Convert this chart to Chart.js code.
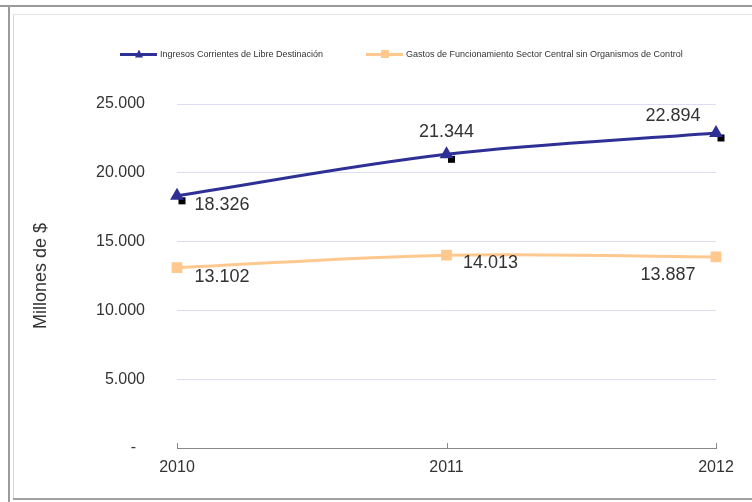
<!DOCTYPE html>
<html>
<head>
<meta charset="utf-8">
<script src="https://cdn.jsdelivr.net/npm/chart.js@4/dist/chart.umd.min.js"></script>
<style>
  html, body { margin: 0; padding: 0; background: #fff; }
  #wrap { position: relative; width: 752px; height: 502px; overflow: hidden; font-family: "Liberation Sans", Arial, sans-serif; }
  #wrap canvas { position: absolute; left: 0; top: 0; }
  .ln { position: absolute; }
  #legend { position: absolute; top: 46px; left: 0; width: 752px; height: 16px; font-size: 9px; color: #333; }
  .item { position: absolute; top: 0; display: flex; align-items: center; height: 16px; }
  .seg { position: relative; width: 37px; height: 3px; margin-right: 3px; }
  .mk { position: absolute; top: -3px; left: 15px; width: 8px; height: 8px; }
</style>
</head>
<body>
<div id="wrap">
  <div class="ln" style="left:0;top:5px;width:752px;height:2px;background:#9a9a9a"></div>
  <div class="ln" style="left:8px;top:5px;width:2px;height:497px;background:#9a9a9a"></div>
  <div class="ln" style="left:13px;top:14px;width:1px;height:486px;background:#d8d8d8"></div>
  <div class="ln" style="left:13px;top:14px;width:739px;height:1px;background:#e6e6e6"></div>
  <div class="ln" style="left:13px;top:498px;width:739px;height:2px;background:#a0a0a0"></div>
  <canvas id="chart" width="752" height="502"></canvas>
  <div id="legend">
    <div class="item" style="left:120px">
      <div class="seg" style="background:#2f3096"><div class="mk" style="background:#2f3096;clip-path:polygon(50% 0,100% 100%,0 100%)"></div></div>
      <span>Ingresos Corrientes de Libre Destinación</span>
    </div>
    <div class="item" style="left:366px">
      <div class="seg" style="background:#ffc88f"><div class="mk" style="background:#ffc88f"></div></div>
      <span>Gastos de Funcionamiento Sector Central sin Organismos de Control</span>
    </div>
  </div>
</div>
<script>
const years = ["2010", "2011", "2012"];
const ingresos = [18326, 21344, 22894];
const gastos = [13102, 14013, 13887];
const yTicks = [0, 5000, 10000, 15000, 20000, 25000];

const FONT = '"Liberation Sans", Arial, sans-serif';
const blue = "#2f3096";
const orange = "#ffc88f";

function fmt(v) {
  if (v === 0) return "-  ";
  return String(v).replace(/\B(?=(\d{3})+(?!\d))/g, ".");
}

// where each value label sits relative to its point (dx, dy of text centre)
const labelOffsets = [
  [[45, 9], [0, -22], [-43, -17]],
  [[45, 9], [44, 8], [-48, 18]]
];

const labelsPlugin = {
  id: "valueLabels",
  beforeDatasetsDraw(chart) {
    // little black shadow squares behind the blue markers
    const c = chart.ctx;
    c.save();
    c.fillStyle = "#000";
    chart.getDatasetMeta(0).data.forEach(pt => {
      c.fillRect(pt.x + 1.5, pt.y + 1.5, 7, 7);
    });
    c.restore();
  },
  afterDatasetsDraw(chart) {
    const c = chart.ctx;
    c.save();
    c.font = "18px " + FONT;
    c.fillStyle = "#333";
    c.textAlign = "center";
    c.textBaseline = "middle";
    chart.data.datasets.forEach((ds, di) => {
      chart.getDatasetMeta(di).data.forEach((pt, i) => {
        const off = labelOffsets[di][i];
        c.fillText(fmt(ds.data[i]), pt.x + off[0], pt.y + off[1]);
      });
    });
    // x tick marks pointing up from the axis line
    const x = chart.scales.x;
    c.strokeStyle = "#888";
    c.lineWidth = 1;
    c.beginPath();
    years.forEach((_, i) => {
      const px = Math.round(x.getPixelForTick(i)) + 0.5;
      c.moveTo(px, chart.chartArea.bottom);
      c.lineTo(px, chart.chartArea.bottom - 5);
    });
    c.stroke();
    c.restore();
  }
};

new Chart(document.getElementById("chart"), {
  type: "line",
  data: {
    labels: years,
    datasets: [
      {
        label: "Ingresos Corrientes de Libre Destinación",
        data: ingresos,
        borderColor: blue,
        backgroundColor: blue,
        borderWidth: 3,
        tension: 0.35,
        pointStyle: "triangle",
        pointRadius: 5,
        pointHoverRadius: 5
      },
      {
        label: "Gastos de Funcionamiento Sector Central sin Organismos de Control",
        data: gastos,
        borderColor: orange,
        backgroundColor: orange,
        borderWidth: 3,
        tension: 0.35,
        pointStyle: "rect",
        pointRadius: 5.5,
        pointHoverRadius: 5.5
      }
    ]
  },
  options: {
    responsive: false,
    animation: false,
    layout: { padding: { top: 104, right: 36, bottom: 20, left: 10 } },
    plugins: { legend: { display: false }, tooltip: { enabled: false } },
    scales: {
      x: {
        offset: false,
        grid: { display: false },
        border: { display: true, color: "#888", width: 1 },
        ticks: { color: "#333", font: { family: FONT, size: 16 }, padding: 2, maxRotation: 0 },
        afterFit(s) { s.height = 34; }
      },
      y: {
        min: 0,
        max: 25000,
        afterBuildTicks(s) { s.ticks = yTicks.map(v => ({ value: v })); },
        grid: { color: "#dcdcf4", lineWidth: 1, drawTicks: false },
        border: { display: false },
        ticks: { color: "#333", font: { family: FONT, size: 16 }, padding: 32, callback: v => fmt(v) },
        title: { display: true, text: "Millones de $", color: "#333", font: { family: FONT, size: 18 }, padding: { top: 20, bottom: 0 } },
        afterFit(s) { s.width = 167; }
      }
    }
  },
  plugins: [labelsPlugin]
});
</script>
</body>
</html>
